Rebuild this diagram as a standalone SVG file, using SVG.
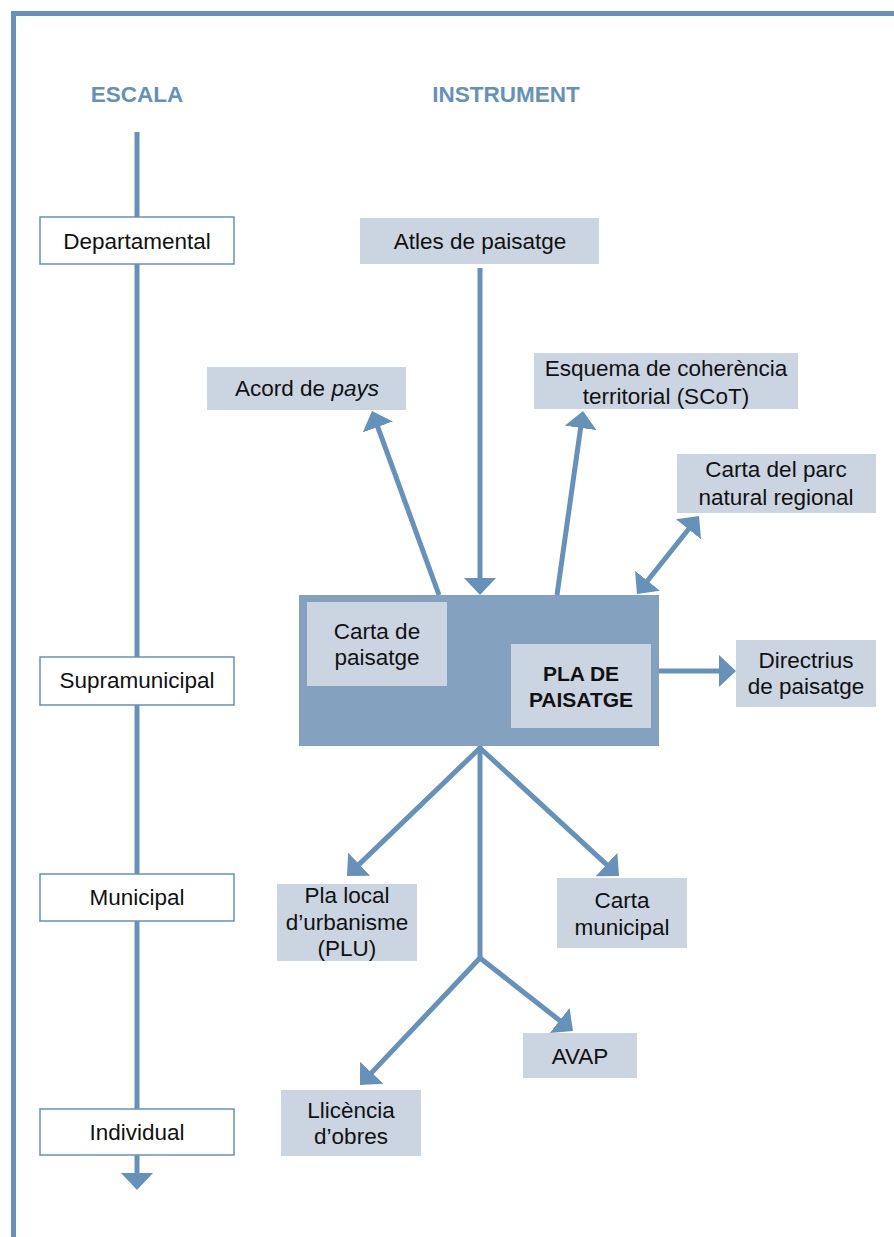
<svg xmlns="http://www.w3.org/2000/svg" width="894" height="1237" viewBox="0 0 894 1237">
<style>
text{font-family:"Liberation Sans",Arial,sans-serif;font-size:22.5px;fill:#111;text-anchor:middle}
.h{font-weight:bold;fill:#6591bb}
.b{font-weight:bold;font-size:21px}
.scale{fill:#fff;stroke:#6591bb;stroke-width:1.5}
.inst{fill:#cad5e1}
.ln{stroke:#6591bb;stroke-width:5;fill:none}
.ar{marker-end:url(#ah)}
.dbl{marker-start:url(#ah);marker-end:url(#ah)}
</style>
<defs>
<marker id="ah" markerUnits="userSpaceOnUse" markerWidth="18" markerHeight="32" viewBox="0 0 18 32" refX="2" refY="16" orient="auto-start-reverse">
<path d="M0,0 L17,16 L0,32 z" fill="#6591bb"/>
</marker>
</defs>
<path d="M13.5,1237 V13.5 H894" fill="none" stroke="#6591bb" stroke-width="5"/>
<text class="h" x="137" y="102">ESCALA</text>
<text class="h" x="506" y="102">INSTRUMENT</text>
<g id="connectors">
<line class="ln ar" x1="137" y1="132" x2="137" y2="1175"/>
<line class="ln ar" x1="480" y1="268" x2="480" y2="580"/>
<line class="ln ar" x1="439" y1="595" x2="377.1" y2="425.1"/>
<line class="ln ar" x1="557" y1="595" x2="580.9" y2="425.9"/>
<line class="ln dbl" x1="689.7" y1="527.7" x2="646.3" y2="582.3"/>
<line class="ln ar" x1="659" y1="671" x2="721" y2="671"/>
<line class="ln dbl" x1="461.3" y1="653.6" x2="497.7" y2="679.4"/>
<line class="ln" x1="480" y1="746" x2="480" y2="958"/>
<line class="ln ar" x1="480" y1="748" x2="357.8" y2="865.6"/>
<line class="ln ar" x1="480" y1="748" x2="608" y2="865.8"/>
<line class="ln ar" x1="480" y1="958" x2="370.3" y2="1074.1"/>
<line class="ln ar" x1="480" y1="958" x2="561.2" y2="1021.7"/>
</g>
<g id="departamental"><rect class="scale" x="40" y="217" width="194" height="47"/><text x="137" y="249">Departamental</text></g>
<g id="supramunicipal"><rect class="scale" x="40" y="657" width="194" height="48"/><text x="137" y="688">Supramunicipal</text></g>
<g id="municipal"><rect class="scale" x="40" y="874" width="194" height="47"/><text x="137" y="905">Municipal</text></g>
<g id="individual"><rect class="scale" x="40" y="1109" width="194" height="46"/><text x="137" y="1140">Individual</text></g>
<g id="atles"><rect class="inst" x="360" y="218" width="239" height="46"/><text x="480" y="249">Atles de paisatge</text></g>
<g id="acord"><rect class="inst" x="207" y="367" width="199" height="43"/><text x="307" y="396">Acord de <tspan font-style="italic">pays</tspan></text></g>
<g id="scot"><rect class="inst" x="534" y="353" width="264" height="56"/><text x="666" y="376">Esquema de coherència</text><text x="666" y="404">territorial (SCoT)</text></g>
<g id="parc"><rect class="inst" x="677" y="454" width="199" height="59"/><text x="776" y="477">Carta del parc</text><text x="776" y="505">natural regional</text></g>
<g id="main"><rect x="299" y="595" width="360" height="151" fill="#84a2c0"/></g>
<g id="carta-paisatge"><rect class="inst" x="307" y="602" width="140" height="84"/><text x="377" y="639">Carta de</text><text x="377" y="665">paisatge</text></g>
<g id="pla"><rect class="inst" x="511" y="644" width="140" height="84"/><text class="b" x="581" y="681">PLA DE</text><text class="b" x="581" y="707">PAISATGE</text></g>
<g id="directrius"><rect class="inst" x="736" y="640" width="140" height="67"/><text x="806" y="668">Directrius</text><text x="806" y="694">de paisatge</text></g>
<g id="plu"><rect class="inst" x="277" y="884" width="140" height="77"/><text x="347" y="903">Pla local</text><text x="347" y="930">d’urbanisme</text><text x="347" y="956">(PLU)</text></g>
<g id="carta-municipal"><rect class="inst" x="557" y="878" width="130" height="70"/><text x="622" y="908">Carta</text><text x="622" y="935">municipal</text></g>
<g id="avap"><rect class="inst" x="523" y="1033" width="114" height="45"/><text x="580" y="1064">AVAP</text></g>
<g id="llicencia"><rect class="inst" x="281" y="1090" width="140" height="66"/><text x="351" y="1118">Llicència</text><text x="351" y="1144">d’obres</text></g>
</svg>
